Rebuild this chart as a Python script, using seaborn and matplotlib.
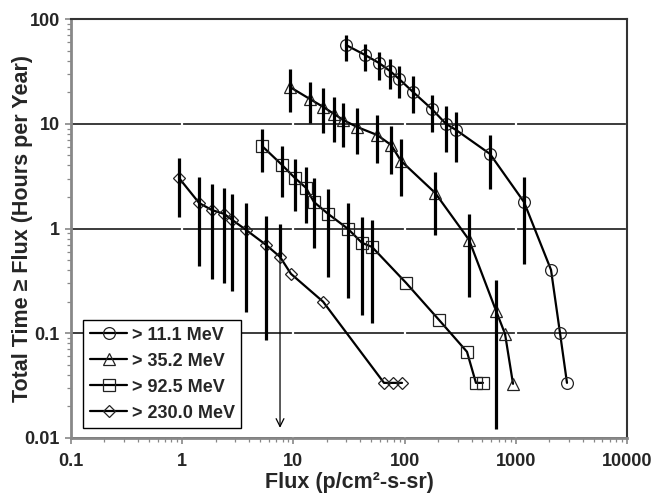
import numpy as np
import pandas as pd
import matplotlib
matplotlib.use('Agg')
import matplotlib.pyplot as plt
import seaborn as sns

# ==================== DATA ====================
# > 11.1 MeV
circle_flux = [29.7, 44.0, 58.9, 73.9, 89.1, 119, 176, 236, 290, 586, 1185, 2073, 2496, 2886]
circle_time = [56.5, 45.4, 38.0, 31.9, 26.8, 20.1, 13.8, 9.96, 8.73, 5.15, 1.79, 0.403, 0.101, 0.0336]
circle_lo = [39.7, 31.9, 26.2, 21.5, 17.6, 12.7, 8.35, 5.38, 4.32, 2.39, 0.459, np.nan, np.nan, np.nan]
circle_hi = [70.4, 57.7, 48.4, 41.5, 35.6, 28.6, 18.8, 14.8, 13.0, 7.82, 3.11, np.nan, np.nan, np.nan]

# > 35.2 MeV
tri_flux = [9.32, 14.1, 18.5, 23.2, 27.9, 37.3, 56.5, 75.5, 92.8, 188, 380, 664, 800, 944]
tri_time = [22.4, 17.2, 14.5, 12.4, 10.9, 9.32, 7.82, 6.28, 4.42, 2.19, 0.778, 0.164, 0.0987, 0.0329]
tri_lo = [13.0, 10.2, 8.17, 6.70, 6.01, 5.15, 4.23, 3.32, 2.05, 0.869, 0.222, 0.0122, np.nan, np.nan]
tri_hi = [33.3, 25.1, 22.0, 18.0, 15.8, 14.2, 12.1, 9.53, 7.16, 3.47, 1.38, 0.323, np.nan, np.nan]

# > 92.5 MeV
sq_flux = [5.22, 7.89, 10.3, 13.0, 15.3, 20.5, 31.0, 41.4, 50.9, 103, 204, 364, 438, 507]
sq_time = [6.14, 4.05, 3.04, 2.44, 1.79, 1.38, 0.991, 0.729, 0.667, 0.303, 0.134, 0.0665, 0.0336, 0.0336]
sq_lo = [3.47, 2.00, 1.47, 1.13, 0.653, 0.345, 0.218, 0.150, 0.126, np.nan, np.nan, np.nan, np.nan, np.nan]
sq_hi = [8.92, 6.14, 4.61, 3.87, 3.04, 2.39, 1.75, 1.29, 1.21, np.nan, np.nan, np.nan, np.nan, np.nan]

# > 230.0 MeV
dia_flux = [0.935, 1.42, 1.85, 2.38, 2.81, 3.75, 5.67, 7.58, 9.51, 18.5, 65.3, 78.7, 94.8]
dia_time = [3.04, 1.75, 1.50, 1.38, 1.21, 0.970, 0.698, 0.536, 0.369, 0.200, 0.0336, 0.0336, 0.0336]
dia_lo = [1.29, 0.440, 0.330, 0.303, 0.254, 0.160, 0.0865, np.nan, np.nan, np.nan, np.nan, np.nan, np.nan]
dia_hi = [4.72, 3.11, 2.67, 2.44, 2.14, 1.75, 1.32, 1.11, np.nan, np.nan, np.nan, np.nan, np.nan]
arrow_point = 7            # index of the diamond point with the downward arrow
arrow_end = 0.0125

series_labels = ['> 11.1 MeV', '> 35.2 MeV', '> 92.5 MeV', '> 230.0 MeV']
x_ticks = [0.1, 1, 10, 100, 1000, 10000]
x_tick_labels = ['0.1', '1', '10', '100', '1000', '10000']
y_ticks = [0.01, 0.1, 1, 10, 100]
y_tick_labels = ['0.01', '0.1', '1', '10', '100']

series = [
    (circle_flux, circle_time, circle_lo, circle_hi, 'o', 8.5),
    (tri_flux, tri_time, tri_lo, tri_hi, '^', 9),
    (sq_flux, sq_time, sq_lo, sq_hi, 's', 8.5),
    (dia_flux, dia_time, dia_lo, dia_hi, 'D', 6.5),
]

# ==================== STYLE ====================
sns.set_style('ticks')
plt.rcParams['font.family'] = ['Liberation Sans', 'DejaVu Sans']
plt.rcParams['font.weight'] = 'bold'

fig = plt.figure(figsize=(6.55, 4.93), dpi=100)
ax = fig.add_axes([71/655, 1 - 438/493, 556/655, 419/493])
ax.set_xscale('log')
ax.set_yscale('log')

# ==================== PLOT ====================
for (fx, ty, lo, hi, mk, ms), lab in zip(series, series_labels):
    df = pd.DataFrame({'flux': fx, 'time': ty, 'lo': lo, 'hi': hi})
    eb = df.copy()
    eb['lo'] = eb['lo'].fillna(eb['time'])
    eb = eb.dropna(subset=['hi'])
    ax.vlines(eb['flux'], eb['lo'], eb['hi'], color='black', lw=2.3, zorder=3)
    sns.lineplot(data=df, x='flux', y='time', ax=ax, sort=False, estimator=None,
                 color='black', lw=1.6, marker=mk, markersize=ms,
                 markerfacecolor='none', markeredgecolor='#222222',
                 markeredgewidth=0.9, label=lab, zorder=2)

ax.annotate('', xy=(dia_flux[arrow_point], arrow_end),
            xytext=(dia_flux[arrow_point], dia_time[arrow_point]),
            arrowprops=dict(arrowstyle='->', lw=0.9, color='black',
                            mutation_scale=14, shrinkA=0, shrinkB=0),
            zorder=3)

# ==================== AXES ====================
ax.set_xlim(0.1, 10000)
ax.set_ylim(0.01, 100)
ax.set_xticks(x_ticks)
ax.set_xticklabels(x_tick_labels)
ax.set_yticks(y_ticks)
ax.set_yticklabels(y_tick_labels)
ax.tick_params(axis='both', which='major', labelsize=13, length=4, width=1.2,
               color='#888888', direction='out', pad=4)
ax.tick_params(axis='x', which='major', pad=7)
ax.tick_params(axis='both', which='minor', length=3, width=0.9,
               color='#888888', direction='out')
for t in ax.get_xticklabels() + ax.get_yticklabels():
    t.set_fontweight('bold')

ax.set_axisbelow(True)
ax.yaxis.grid(True, which='major', color='#1a1a1a', lw=1.2)
ax.xaxis.grid(True, which='major', color='white', lw=1.6)
ax.yaxis.set_zorder(0.5)
ax.xaxis.set_zorder(0.6)

for side in ['left', 'bottom']:
    ax.spines[side].set_color('#888888')
    ax.spines[side].set_linewidth(2)
for side in ['top', 'right']:
    ax.spines[side].set_color('#333333')
    ax.spines[side].set_linewidth(1.5)

ax.set_xlabel('Flux (p/cm²-s-sr)', fontsize=15.5, fontweight='bold', labelpad=1)
ax.set_ylabel('Total Time ≥ Flux (Hours per Year)', fontsize=15.5, fontweight='bold')
ax.yaxis.set_label_coords(-0.068, 0.5)

leg = ax.legend(loc='lower left', bbox_to_anchor=(0.022, 0.024), borderaxespad=0,
                fancybox=False, edgecolor='black', framealpha=1, fontsize=13,
                handlelength=2.1, handletextpad=0.25, labelspacing=0.5,
                borderpad=0.35)
leg.get_frame().set_linewidth(1.0)
for t in leg.get_texts():
    t.set_fontweight('bold')

fig.savefig('out.png', dpi=100)
